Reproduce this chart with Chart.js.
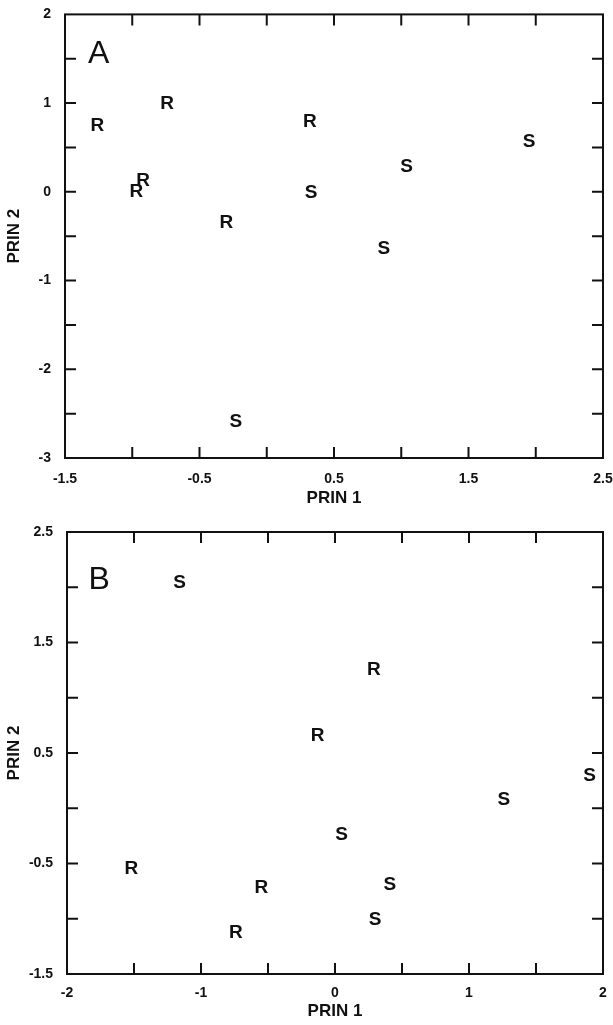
<!DOCTYPE html>
<html>
<head>
<meta charset="utf-8">
<script src="https://cdn.jsdelivr.net/npm/chart.js@4.4.0/dist/chart.umd.min.js"></script>
<style>
  html, body { margin: 0; padding: 0; background: #fff; }
  #wrapA { position: absolute; left: 0; top: 0; width: 613px; height: 512px; }
  #wrapB { position: absolute; left: 0; top: 512px; width: 613px; height: 513px; }
</style>
</head>
<body>
<div id="wrapA"><canvas id="chartA"></canvas></div>
<div id="wrapB"><canvas id="chartB"></canvas></div>
<script>
// Panel A points
const aRx = [-1.26, -0.74, 0.32, -0.92, -0.97, -0.30];
const aRy = [0.74, 0.99, 0.79, 0.13, 0.00, -0.35];
const aSx = [1.95, 1.04, 0.33, 0.87, -0.23];
const aSy = [0.57, 0.28, -0.01, -0.64, -2.59];
const aXLabels = ['-1.5', '-0.5', '0.5', '1.5', '2.5'];
const aYLabels = ['2', '1', '0', '-1', '-2', '-3'];

// Panel B points
const bRx = [0.29, -0.13, -1.52, -0.55, -0.74];
const bRy = [1.25, 0.66, -0.55, -0.72, -1.13];
const bSx = [-1.16, 1.90, 1.26, 0.05, 0.41, 0.30];
const bSy = [2.04, 0.29, 0.08, -0.24, -0.69, -1.01];
const bXLabels = ['-2', '-1', '0', '1', '2'];
const bYLabels = ['2.5', '1.5', '0.5', '-0.5', '-1.5'];

const FONT = '"Liberation Sans", Arial, sans-serif';

function pts(xs, ys) {
  return xs.map((x, i) => ({ x: x, y: ys[i] }));
}

// frame, inward ticks, letter markers and panel letter
const framePlugin = {
  id: 'framePlugin',
  afterDatasetsDraw(chart, args, opts) {
    const ctx = chart.ctx;
    const a = chart.chartArea;
    const xs = chart.scales.x, ys = chart.scales.y;
    const len = 11;
    ctx.save();
    ctx.strokeStyle = '#111';
    ctx.lineWidth = 2;
    ctx.strokeRect(a.left, a.top, a.right - a.left, a.bottom - a.top);
    ctx.beginPath();
    xs.ticks.forEach(t => {
      if (t.value <= xs.min + 1e-9 || t.value >= xs.max - 1e-9) return;
      const p = xs.getPixelForValue(t.value);
      ctx.moveTo(p, a.bottom); ctx.lineTo(p, a.bottom - len);
      ctx.moveTo(p, a.top); ctx.lineTo(p, a.top + len);
    });
    ys.ticks.forEach(t => {
      if (t.value <= ys.min + 1e-9 || t.value >= ys.max - 1e-9) return;
      const p = ys.getPixelForValue(t.value);
      ctx.moveTo(a.left, p); ctx.lineTo(a.left + len, p);
      ctx.moveTo(a.right, p); ctx.lineTo(a.right - len, p);
    });
    ctx.stroke();

    ctx.fillStyle = '#111';
    ctx.textAlign = 'center';
    ctx.textBaseline = 'middle';
    ctx.font = 'bold 19px ' + FONT;
    chart.data.datasets.forEach((ds, i) => {
      chart.getDatasetMeta(i).data.forEach(el => ctx.fillText(ds.label, el.x, el.y));
    });
    ctx.font = '32px ' + FONT;
    ctx.fillText(opts.panel, xs.getPixelForValue(opts.px), ys.getPixelForValue(opts.py));
    ctx.restore();
  }
};

function makeChart(id, o) {
  return new Chart(document.getElementById(id), {
    type: 'scatter',
    data: {
      datasets: [
        { label: 'R', data: pts(o.rx, o.ry), pointRadius: 0 },
        { label: 'S', data: pts(o.sx, o.sy), pointRadius: 0 }
      ]
    },
    options: {
      responsive: true,
      maintainAspectRatio: false,
      animation: false,
      layout: { padding: { top: o.top, right: 0, left: 0, bottom: 0 } },
      plugins: {
        legend: { display: false },
        tooltip: { enabled: false },
        framePlugin: { panel: o.panel, px: o.panelX, py: o.panelY }
      },
      scales: {
        x: {
          type: 'linear', min: o.xmin, max: o.xmax,
          grid: { display: false },
          border: { display: false },
          afterFit: s => { s.height = o.xh; s.paddingRight = 10; },
          ticks: {
            stepSize: 0.5, autoSkip: false, maxRotation: 0, padding: o.xpad,
            color: '#111', font: { family: FONT, size: 14, weight: 'bold' },
            callback: v => { const l = String(v); return o.xl.includes(l) ? l : ''; }
          },
          title: {
            display: true, text: 'PRIN 1', color: '#111',
            font: { family: FONT, size: 17, weight: 'bold' },
            padding: { top: 0, bottom: 3 }
          }
        },
        y: {
          type: 'linear', min: o.ymin, max: o.ymax,
          grid: { display: false },
          border: { display: false },
          afterFit: s => { s.width = o.yw; },
          ticks: {
            stepSize: 0.5, autoSkip: false, padding: 6,
            color: '#111', font: { family: FONT, size: 14, weight: 'bold' },
            callback: v => { const l = String(v); return o.yl.includes(l) ? l : ''; }
          },
          title: {
            display: true, text: 'PRIN 2', color: '#111',
            font: { family: FONT, size: 17, weight: 'bold' },
            padding: { top: 4, bottom: 0 }
          }
        }
      }
    },
    plugins: [framePlugin]
  });
}

makeChart('chartA', {
  rx: aRx, ry: aRy, sx: aSx, sy: aSy, xl: aXLabels, yl: aYLabels,
  xmin: -1.5, xmax: 2.5, ymin: -3, ymax: 2,
  top: 14, xh: 54, yw: 65, xpad: 5,
  panel: 'A', panelX: -1.25, panelY: 1.55
});

makeChart('chartB', {
  rx: bRx, ry: bRy, sx: bSx, sy: bSy, xl: bXLabels, yl: bYLabels,
  xmin: -2, xmax: 2, ymin: -1.5, ymax: 2.5,
  top: 20, xh: 51, yw: 67, xpad: 3,
  panel: 'B', panelX: -1.76, panelY: 2.06
});
</script>
</body>
</html>
